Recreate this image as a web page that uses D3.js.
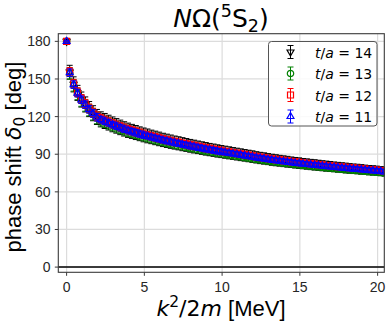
<!DOCTYPE html>
<html lang="en">
<head>
<meta charset="utf-8">
<title>N Omega phase shift</title>
<script src="https://d3js.org/d3.v7.min.js"></script>
<style>
  body { margin: 0; background: #fff; }
  svg { display: block; }
</style>
</head>
<body>
<script>
var w = 391, h = 324;
var margin = { left: 58.3, right: 384.3, top: 33.7, bottom: 272.3 };

// tick labels
var xTicks = [0, 5, 10, 15, 20];
var yTicks = [0, 30, 60, 90, 120, 150, 180];

// k^2/2m [MeV]
var energy = [0, 0.2, 0.45, 0.7, 0.95,
  1.2, 1.45, 1.7, 1.95, 2.2, 2.45, 2.7, 2.95, 3.2, 3.45, 3.7, 3.95,
  4.2, 4.45, 4.7, 4.95, 5.2, 5.45, 5.7, 5.95, 6.2, 6.45, 6.7, 6.95,
  7.2, 7.45, 7.7, 7.95, 8.2, 8.45, 8.7, 8.95, 9.2, 9.45, 9.7, 9.95,
  10.2, 10.45, 10.7, 10.95, 11.2, 11.45, 11.7, 11.95, 12.2, 12.45, 12.7, 12.95,
  13.2, 13.45, 13.7, 13.95, 14.2, 14.45, 14.7, 14.95, 15.2, 15.45, 15.7, 15.95,
  16.2, 16.45, 16.7, 16.95, 17.2, 17.45, 17.7, 17.95, 18.2, 18.45, 18.7, 18.95,
  19.2, 19.45, 19.7, 19.95, 20.2, 20.45];

// phase shift [deg] for each t/a
var delta14 = [180, 155.4, 145.7, 138.9, 133.6,
  129.7, 126, 122.7, 119.7, 117.8, 116.5, 115.2, 113.8, 112.6, 111.4, 110.2, 109.1,
  108.2, 107.3, 106.3, 105.4, 104.6, 103.8, 103, 102.2, 101.4, 100.7, 100, 99.3,
  98.7, 98, 97.4, 96.7, 96.1, 95.5, 94.9, 94.3, 93.7, 93.2, 92.6, 92.1,
  91.6, 91.1, 90.6, 90.1, 89.6, 89.1, 88.6, 88.1, 87.5, 87, 86.6, 86.1,
  85.6, 85.2, 84.8, 84.4, 84, 83.6, 83.2, 82.9, 82.5, 82.2, 81.8, 81.5,
  81.2, 80.8, 80.5, 80.2, 79.9, 79.6, 79.3, 79, 78.7, 78.4, 78.2, 77.9,
  77.6, 77.3, 77.1, 76.8, 76.5, 76.2];
var err14 = [0.6, 5.5, 6, 6, 6,
  6, 6, 6, 6, 6, 6, 5.9, 5.9, 5.8, 5.8, 5.7, 5.7,
  5.6, 5.6, 5.5, 5.5, 5.5, 5.4, 5.4, 5.4, 5.3, 5.3, 5.3, 5.2,
  5.2, 5.2, 5.1, 5.1, 5.1, 5, 5, 5, 4.9, 4.9, 4.9, 4.8,
  4.8, 4.8, 4.7, 4.7, 4.7, 4.6, 4.6, 4.6, 4.5, 4.5, 4.5, 4.4,
  4.4, 4.4, 4.3, 4.3, 4.3, 4.2, 4.2, 4.2, 4.1, 4.1, 4.1, 4.1,
  4, 4, 4, 4, 3.9, 3.9, 3.9, 3.9, 3.8, 3.8, 3.8, 3.8,
  3.7, 3.7, 3.7, 3.7, 3.6, 3.6];

var delta13 = [180, 154.4, 144.9, 138.1, 132.8,
  128.9, 125.2, 121.9, 118.9, 117, 115.7, 114.4, 113, 111.8, 110.6, 109.4, 108.3,
  107.4, 106.5, 105.5, 104.6, 103.8, 103, 102.2, 101.4, 100.6, 99.9, 99.2, 98.5,
  97.9, 97.2, 96.6, 95.9, 95.3, 94.7, 94.1, 93.5, 92.9, 92.4, 91.8, 91.3,
  90.8, 90.3, 89.8, 89.3, 88.8, 88.3, 87.8, 87.3, 86.7, 86.2, 85.8, 85.3,
  84.8, 84.4, 84, 83.6, 83.2, 82.8, 82.4, 82.1, 81.7, 81.4, 81, 80.7,
  80.4, 80, 79.7, 79.4, 79.1, 78.8, 78.5, 78.2, 77.9, 77.6, 77.4, 77.1,
  76.8, 76.5, 76.3, 76, 75.7, 75.4];
var err13 = [0.5, 4.5, 4.6, 4.6, 4.6,
  4.6, 4.6, 4.6, 4.6, 4.4, 4.4, 4.3, 4.3, 4.2, 4.2, 4.1, 4.1,
  4, 4, 4, 3.9, 3.9, 3.9, 3.9, 3.9, 3.8, 3.8, 3.8, 3.8,
  3.7, 3.7, 3.7, 3.7, 3.6, 3.6, 3.6, 3.6, 3.5, 3.5, 3.5, 3.5,
  3.5, 3.5, 3.5, 3.5, 3.4, 3.4, 3.4, 3.4, 3.3, 3.3, 3.3, 3.3,
  3.2, 3.2, 3.2, 3.2, 3.1, 3.1, 3.1, 3.1, 3.1, 3.1, 3.1, 3.1,
  3, 3, 3, 3, 3, 3, 3, 3, 2.9, 2.9, 2.9, 2.9,
  2.9, 2.9, 2.9, 2.9, 2.8, 2.8];

var delta12 = [180, 155.6, 146.2, 139.5, 134.1,
  130.2, 126.5, 123.2, 120.2, 118.3, 117, 115.7, 114.3, 113.1, 111.9, 110.7, 109.6,
  108.7, 107.8, 106.8, 105.9, 105.1, 104.3, 103.5, 102.7, 101.9, 101.2, 100.5, 99.8,
  99.2, 98.5, 97.9, 97.2, 96.6, 96, 95.4, 94.8, 94.2, 93.7, 93.1, 92.6,
  92.1, 91.6, 91.1, 90.6, 90.1, 89.6, 89.1, 88.6, 88, 87.5, 87.1, 86.6,
  86.1, 85.7, 85.3, 84.9, 84.5, 84.1, 83.7, 83.4, 83, 82.7, 82.3, 82,
  81.7, 81.3, 81, 80.7, 80.4, 80.1, 79.8, 79.5, 79.2, 78.9, 78.7, 78.4,
  78.1, 77.8, 77.6, 77.3, 77, 76.7];
var err12 = [0.5, 3.5, 3.5, 3.5, 3.5,
  3.5, 3.5, 3.5, 3.5, 3.3, 3.3, 3.3, 3.3, 3.3, 3.3, 3.3, 3.3,
  3.3, 3.3, 3.3, 3.3, 3, 3, 3, 3, 3, 3, 3, 3,
  3, 3, 3, 3, 3, 3, 3, 3, 3, 3, 3, 3,
  2.7, 2.7, 2.7, 2.7, 2.7, 2.7, 2.7, 2.7, 2.7, 2.7, 2.7, 2.7,
  2.7, 2.7, 2.7, 2.7, 2.7, 2.7, 2.7, 2.7, 2.4, 2.4, 2.4, 2.4,
  2.4, 2.4, 2.4, 2.4, 2.4, 2.4, 2.4, 2.4, 2.4, 2.4, 2.4, 2.4,
  2.4, 2.4, 2.4, 2.4, 2.4, 2.4];

var delta11 = [180, 155, 145.5, 138.7, 133.4,
  129.5, 125.8, 122.5, 119.5, 117.6, 116.3, 115, 113.6, 112.4, 111.2, 110, 108.9,
  108, 107.1, 106.1, 105.2, 104.4, 103.6, 102.8, 102, 101.2, 100.5, 99.8, 99.1,
  98.5, 97.8, 97.2, 96.5, 95.9, 95.3, 94.7, 94.1, 93.5, 93, 92.4, 91.9,
  91.4, 90.9, 90.4, 89.9, 89.4, 88.9, 88.4, 87.9, 87.3, 86.8, 86.4, 85.9,
  85.4, 85, 84.6, 84.2, 83.8, 83.4, 83, 82.7, 82.3, 82, 81.6, 81.3,
  81, 80.6, 80.3, 80, 79.7, 79.4, 79.1, 78.8, 78.5, 78.2, 78, 77.7,
  77.4, 77.1, 76.9, 76.6, 76.3, 76];
var err11 = [0.5, 3, 3, 3, 3,
  3, 3, 3, 3, 2.6, 2.6, 2.6, 2.6, 2.6, 2.6, 2.6, 2.6,
  2.6, 2.6, 2.6, 2.6, 2.3, 2.3, 2.3, 2.3, 2.3, 2.3, 2.3, 2.3,
  2.3, 2.3, 2.3, 2.3, 2.3, 2.3, 2.3, 2.3, 2.3, 2.3, 2.3, 2.3,
  2, 2, 2, 2, 2, 2, 2, 2, 2, 2, 2, 2,
  2, 2, 2, 2, 2, 2, 2, 2, 1.8, 1.8, 1.8, 1.8,
  1.8, 1.8, 1.8, 1.8, 1.8, 1.8, 1.8, 1.8, 1.8, 1.8, 1.8, 1.8,
  1.8, 1.8, 1.8, 1.8, 1.8, 1.8];

var seriesLabels = ["14", "13", "12", "11"];

var series = [
  { label: seriesLabels[0], y: delta14, e: err14, color: "#000000", marker: "down" },
  { label: seriesLabels[1], y: delta13, e: err13, color: "#008000", marker: "circle" },
  { label: seriesLabels[2], y: delta12, e: err12, color: "#ff0000", marker: "square" },
  { label: seriesLabels[3], y: delta11, e: err11, color: "#0000ff", marker: "up" }
];

var mathFont = "'DejaVu Sans', sans-serif";
var textFont = "'Liberation Sans', Arial, sans-serif";

var svg = d3.select("body").append("svg")
  .attr("width", w)
  .attr("height", h);

svg.append("rect").attr("width", w).attr("height", h).attr("fill", "#fff");

var x = d3.scaleLinear().domain([-0.534, 20.43]).range([margin.left, margin.right]);
var y = d3.scaleLinear().domain([-4.15, 186.1]).range([margin.bottom, margin.top]);

// grid
var grid = svg.append("g").attr("stroke", "#dcdcdc").attr("stroke-width", 1.2);
grid.selectAll("line.gx").data(xTicks).enter().append("line")
  .attr("x1", d => x(d)).attr("x2", d => x(d))
  .attr("y1", margin.top).attr("y2", margin.bottom);
grid.selectAll("line.gy").data(yTicks).enter().append("line")
  .attr("y1", d => y(d)).attr("y2", d => y(d))
  .attr("x1", margin.left).attr("x2", margin.right);

// zero line
svg.append("line")
  .attr("x1", margin.left).attr("x2", margin.right)
  .attr("y1", y(0)).attr("y2", y(0))
  .attr("stroke", "#000").attr("stroke-width", 1.5);

svg.append("clipPath").attr("id", "clip").append("rect")
  .attr("x", margin.left).attr("y", margin.top)
  .attr("width", margin.right - margin.left).attr("height", margin.bottom - margin.top);

function markerPath(type, cx, cy) {
  var r;
  if (type === "up") {
    r = 4;
    return "M" + cx + "," + (cy - r) + "L" + (cx + r * 0.866) + "," + (cy + r * 0.5) +
      "L" + (cx - r * 0.866) + "," + (cy + r * 0.5) + "Z";
  }
  if (type === "down") {
    r = 4;
    return "M" + cx + "," + (cy + r) + "L" + (cx + r * 0.866) + "," + (cy - r * 0.5) +
      "L" + (cx - r * 0.866) + "," + (cy - r * 0.5) + "Z";
  }
  if (type === "square") {
    r = 3;
    return "M" + (cx - r) + "," + (cy - r) + "h" + (2 * r) + "v" + (2 * r) + "h" + (-2 * r) + "Z";
  }
  r = 3.2;
  return "M" + (cx - r) + "," + cy + "a" + r + "," + r + " 0 1,0 " + (2 * r) + ",0" +
    "a" + r + "," + r + " 0 1,0 " + (-2 * r) + ",0";
}

var plot = svg.append("g").attr("clip-path", "url(#clip)");
var cap = 3;

series.forEach(function (s) {
  var pts = energy.map(function (xv, i) { return { x: xv, y: s.y[i], e: s.e[i] }; })
    .filter(d => d.y !== undefined);
  var g = plot.append("g").attr("stroke", s.color).attr("fill", "none");
  var eb = g.append("g").attr("stroke-width", 1);
  eb.selectAll("path").data(pts).enter().append("path")
    .attr("d", function (d) {
      var px = x(d.x), y1 = y(d.y + d.e), y2 = y(d.y - d.e);
      return "M" + px + "," + y1 + "V" + y2 +
        "M" + (px - cap) + "," + y1 + "H" + (px + cap) +
        "M" + (px - cap) + "," + y2 + "H" + (px + cap);
    });
  g.append("g").attr("stroke-width", 1.2).selectAll("path").data(pts).enter().append("path")
    .attr("d", d => markerPath(s.marker, x(d.x), y(d.y)));
});

// frame
svg.append("rect")
  .attr("x", margin.left).attr("y", margin.top)
  .attr("width", margin.right - margin.left).attr("height", margin.bottom - margin.top)
  .attr("fill", "none").attr("stroke", "#3a3a3a").attr("stroke-width", 1.1);

// ticks
var tk = svg.append("g").attr("stroke", "#3a3a3a").attr("stroke-width", 1);
tk.selectAll("line.tx").data(xTicks).enter().append("line")
  .attr("x1", d => x(d)).attr("x2", d => x(d))
  .attr("y1", margin.bottom).attr("y2", margin.bottom + 3.5);
tk.selectAll("line.ty").data(yTicks).enter().append("line")
  .attr("y1", d => y(d)).attr("y2", d => y(d))
  .attr("x1", margin.left).attr("x2", margin.left - 3.5);

svg.selectAll("text.xt").data(xTicks).enter().append("text")
  .attr("x", d => x(d)).attr("y", 291.5)
  .attr("text-anchor", "middle")
  .attr("font-family", textFont).attr("font-size", 14).attr("fill", "#262626")
  .text(d => d);
svg.selectAll("text.yt").data(yTicks).enter().append("text")
  .attr("x", 50.5).attr("y", d => y(d) + 5)
  .attr("text-anchor", "end")
  .attr("font-family", textFont).attr("font-size", 14).attr("fill", "#262626")
  .text(d => d);

// title
var title = svg.append("text")
  .attr("x", 221).attr("y", 27)
  .attr("text-anchor", "middle")
  .attr("font-family", mathFont).attr("font-size", 25).attr("fill", "#000");
title.append("tspan").attr("font-style", "italic").text("N");
title.append("tspan").text("Ω(");
title.append("tspan").attr("font-size", 17.5).attr("dy", -10).text("5");
title.append("tspan").attr("dy", 10).text("S");
title.append("tspan").attr("font-size", 17.5).attr("dy", 5).text("2");
title.append("tspan").attr("dy", -5).text(")");

// x label
var xl = svg.append("text")
  .attr("x", 221).attr("y", 316)
  .attr("text-anchor", "middle")
  .attr("font-family", mathFont).attr("font-size", 22).attr("fill", "#000");
xl.append("tspan").attr("font-style", "italic").text("k");
xl.append("tspan").attr("font-size", 15.5).attr("dy", -9).text("2");
xl.append("tspan").attr("dy", 9).text("/2");
xl.append("tspan").attr("font-style", "italic").text("m");
xl.append("tspan").attr("font-family", textFont).text(" [MeV]");

// y label
var yl = svg.append("text")
  .attr("transform", "translate(20.5,157) rotate(-90)")
  .attr("text-anchor", "middle")
  .attr("font-family", textFont).attr("font-size", 22).attr("fill", "#000");
yl.append("tspan").text("phase shift ");
yl.append("tspan").attr("font-family", mathFont).attr("font-style", "italic").text("δ");
yl.append("tspan").attr("font-family", mathFont).attr("font-size", 15.5).attr("dy", 4).text("0");
yl.append("tspan").attr("dy", -4).text(" [deg]");

// legend
var lg = svg.append("g");
lg.append("rect")
  .attr("x", 268.5).attr("y", 41.5).attr("width", 108.5).attr("height", 84.5)
  .attr("rx", 3).attr("fill", "#fff").attr("fill-opacity", 0.85)
  .attr("stroke", "#555").attr("stroke-width", 1);
series.forEach(function (s, i) {
  var cy = 52 + i * 21.5, cx = 290.5;
  var g = lg.append("g").attr("stroke", s.color).attr("fill", "none");
  g.append("path").attr("stroke-width", 1)
    .attr("d", "M" + cx + "," + (cy - 6.5) + "V" + (cy + 6.5) +
      "M" + (cx - cap) + "," + (cy - 6.5) + "H" + (cx + cap) +
      "M" + (cx - cap) + "," + (cy + 6.5) + "H" + (cx + cap));
  g.append("path").attr("stroke-width", 1.2).attr("d", markerPath(s.marker, cx, cy));
  var t = lg.append("text").attr("x", 315).attr("y", cy + 5.5)
    .attr("font-family", mathFont).attr("font-size", 14).attr("fill", "#000");
  t.append("tspan").attr("font-style", "italic").text("t");
  t.append("tspan").text("/");
  t.append("tspan").attr("font-style", "italic").text("a");
  t.append("tspan").text(" = " + s.label);
});
</script>
</body>
</html>
